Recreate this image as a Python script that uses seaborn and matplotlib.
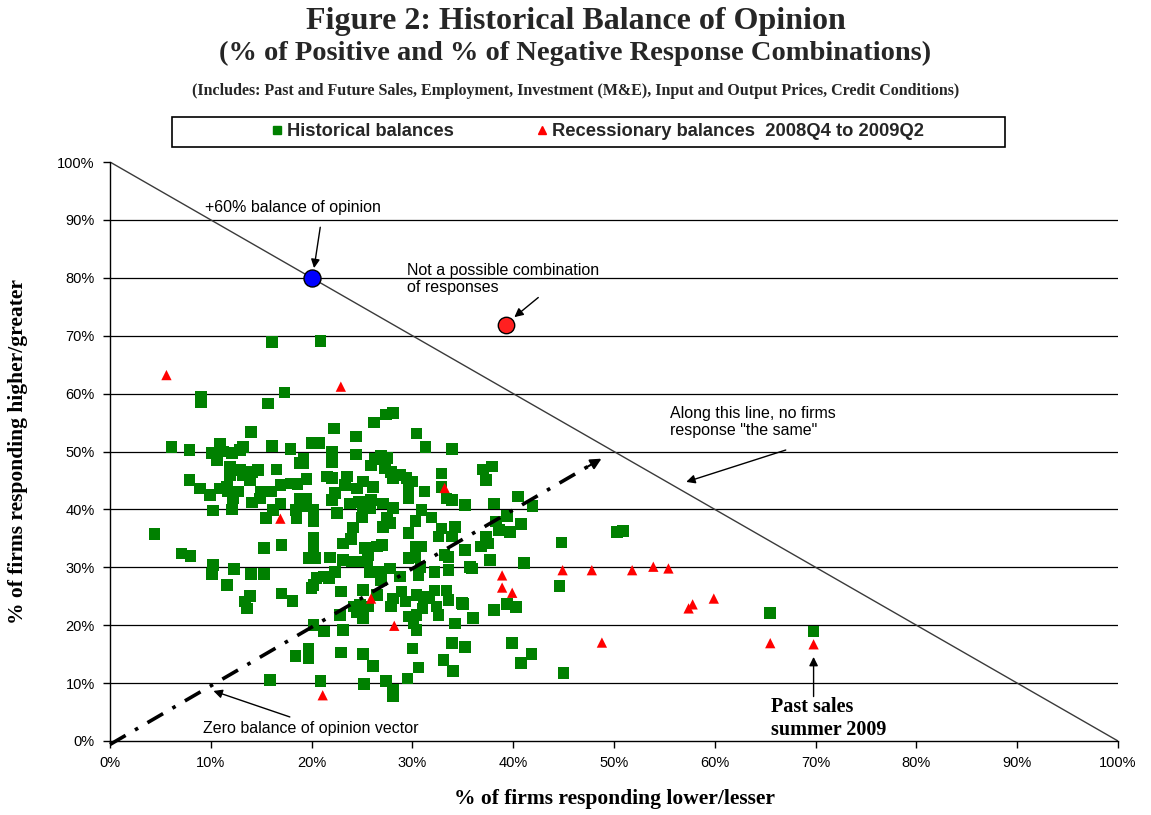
import matplotlib
matplotlib.use("Agg")
import matplotlib.pyplot as plt
import numpy as np
import pandas as pd
import seaborn as sns
from matplotlib.patches import Rectangle
from matplotlib.lines import Line2D

# ---------------- data (percent of firms) ----------------
hist_lower = [
    16.1, 20.9, 9.0, 9.0, 15.7, 17.3, 14.0, 6.1, 7.9, 10.9, 13.2, 16.1, 17.9, 10.1, 11.2, 12.1, 12.9, 10.6,
    11.9, 12.9, 13.2, 14.1, 14.7, 11.9, 13.9, 16.5, 18.8, 7.9, 8.9, 9.9, 10.9, 11.6, 11.7, 12.2, 12.7, 15.0,
    14.9, 16.0, 16.9, 14.1, 10.2, 12.1, 16.2, 16.9, 15.5, 18.4, 18.5, 17.9, 18.6, 4.4, 7.1, 8.0, 10.2, 10.1,
    12.3, 14.0, 15.3, 17.0, 15.3, 11.6, 13.9, 13.4, 13.6, 17.0, 18.1, 18.4, 15.9,
    22.2, 24.4, 28.1, 27.4, 26.2, 30.4, 31.3, 33.9, 20.0, 20.8, 22.0, 24.4, 19.2, 19.2, 22.0, 25.9, 26.3,
    21.5, 22.0, 19.5, 23.5, 23.3, 24.5, 25.1, 26.1, 22.3, 22.0, 18.8, 19.5, 19.3, 20.2, 23.8, 24.7, 25.1,
    25.9, 25.8, 22.5, 20.2, 25.0, 24.1, 20.2, 23.9,
    26.9, 27.5, 27.3, 27.9, 28.1, 28.8, 29.4, 29.6, 30.0, 29.6, 29.6, 31.2, 32.9, 32.9, 33.4, 33.9, 35.2,
    27.1, 28.1, 30.9, 31.9, 30.3, 27.5, 27.8, 27.1, 29.6, 32.9, 34.2, 33.9, 32.6,
    20.2, 19.7, 20.4, 21.8, 23.1, 23.1, 24.0, 25.3, 25.6, 25.5, 24.8, 26.5, 25.8, 20.5, 21.2, 21.7, 22.3,
    20.2, 20.0, 22.9, 25.1, 24.2, 24.5, 25.1, 24.8, 25.6, 22.8, 20.2, 21.2, 23.1,
    27.0, 30.3, 30.9, 29.6, 30.3, 35.2, 33.2, 33.6, 35.9, 27.8, 26.6, 26.9, 28.8, 30.6, 30.8, 32.2, 33.6,
    26.5, 28.1, 28.9, 29.3, 27.9, 30.4, 31.1, 31.7, 32.2, 33.4, 33.6, 34.9, 32.4, 32.6, 31.0, 29.6, 30.4,
    30.1, 30.4, 34.2, 36.0,
    19.7, 19.7, 22.9, 25.1, 26.1, 30.0, 30.6, 33.9, 35.2, 33.1, 34.0, 20.9, 25.2, 27.4, 28.1, 28.1, 29.5,
    37.0, 37.9, 37.3, 38.1, 40.5, 41.9, 39.4, 38.3, 38.6, 39.7, 40.8, 37.3, 37.5, 36.8, 37.7, 35.7, 41.1,
    44.8, 50.3, 50.9, 44.6, 35.0, 38.1, 39.4, 40.3, 39.9, 41.8, 40.8, 45.0, 65.5, 69.8,
]
hist_higher = [
    68.9, 69.1, 58.5, 59.5, 58.3, 60.2, 53.4, 50.8, 50.3, 51.4, 50.8, 50.9, 50.4, 49.7, 50.0, 49.7, 50.3, 48.5,
    47.4, 46.8, 45.9, 46.5, 46.8, 45.9, 45.1, 46.9, 48.0, 45.1, 43.6, 42.5, 43.6, 43.9, 43.1, 41.9, 43.1, 43.1,
    41.9, 43.1, 44.2, 41.2, 39.8, 40.0, 39.9, 41.0, 38.5, 39.9, 38.5, 44.5, 44.4, 35.7, 32.4, 32.0, 30.4, 28.8,
    29.7, 28.8, 33.3, 33.9, 28.8, 26.9, 25.0, 24.1, 22.9, 25.5, 24.2, 14.7, 10.5,
    54.0, 52.6, 56.7, 56.4, 55.0, 53.1, 50.8, 50.4, 51.5, 51.5, 50.0, 49.5, 48.8, 47.9, 48.2, 47.6, 48.7,
    45.7, 45.4, 45.2, 45.7, 44.2, 43.6, 44.8, 43.9, 42.8, 41.6, 41.9, 41.9, 40.5, 39.9, 41.0, 41.3, 40.5,
    41.6, 40.2, 39.4, 38.0, 38.6, 36.9, 35.1, 34.9,
    49.2, 48.9, 47.1, 46.5, 45.4, 45.9, 45.4, 44.5, 44.8, 43.1, 41.9, 43.1, 46.2, 43.9, 41.9, 41.6, 40.8,
    41.0, 40.2, 39.9, 38.6, 38.0, 38.5, 37.6, 37.0, 35.9, 36.7, 37.0, 35.3, 35.3,
    33.0, 31.6, 31.6, 31.7, 34.1, 31.3, 31.0, 33.3, 32.1, 31.0, 31.0, 33.6, 29.2, 28.1, 28.4, 28.1, 29.2,
    26.9, 26.4, 25.8, 26.1, 23.2, 22.3, 21.2, 23.5, 23.2, 21.8, 20.0, 18.9, 19.2,
    33.9, 33.6, 33.6, 31.6, 31.8, 33.0, 32.1, 31.8, 29.8, 29.8, 29.2, 27.8, 28.4, 28.7, 30.1, 29.2, 29.5,
    25.2, 24.6, 25.8, 24.1, 23.2, 25.2, 24.9, 24.6, 26.0, 26.0, 24.4, 23.8, 23.2, 21.8, 22.9, 21.5, 21.8,
    20.3, 19.2, 20.3, 21.2,
    16.0, 14.3, 15.3, 15.0, 13.0, 16.0, 12.7, 16.9, 16.2, 14.0, 12.1, 10.4, 9.8, 10.4, 8.9, 7.7, 10.8,
    46.9, 47.4, 45.1, 41.0, 42.2, 40.6, 38.9, 37.9, 36.4, 36.1, 37.5, 35.3, 34.1, 33.6, 31.3, 30.1, 30.7,
    34.3, 36.1, 36.3, 26.8, 23.7, 22.6, 23.7, 23.1, 16.9, 15.0, 13.5, 11.7, 22.1, 18.9,
]
rec_lower = [5.6, 22.9, 16.9, 33.2, 25.9, 28.2, 21.1, 38.9, 38.9, 39.9, 44.9, 47.8, 51.8, 53.9, 55.4,
             57.4, 57.8, 59.9, 48.8, 65.5, 69.8]
rec_higher = [63.2, 61.2, 38.4, 43.7, 24.6, 19.9, 7.9, 28.6, 26.5, 25.6, 29.5, 29.5, 29.5, 30.1, 29.8,
              22.9, 23.6, 24.6, 17.0, 16.9, 16.7]

series_names = ["Historical balances", "Recessionary balances  2008Q4 to 2009Q2"]
example_60 = [20, 80]          # +60% balance of opinion
impossible = [39.3, 71.8]      # not a possible combination
no_same_x = [0, 100]
no_same_y = [100, 0]
zero_vec_x = [0, 49]
zero_vec_y = [0, 49]
ticks = list(range(0, 101, 10))
tick_labels = [f"{t}%" for t in ticks]

# ---------------- style ----------------
sns.set_theme(style="white")
plt.rcParams["font.family"] = ["Liberation Sans", "DejaVu Sans"]
SERIF = ["Liberation Serif", "DejaVu Serif"]

W, H = 1151, 815
fig = plt.figure(figsize=(W / 100, H / 100), dpi=100)
fig.patch.set_facecolor("white")
ax = fig.add_axes([110 / W, 1 - 741 / H, 1008 / W, 579 / H])
ax.set_facecolor("white")

df_h = pd.DataFrame({"lower": hist_lower, "higher": hist_higher})
df_r = pd.DataFrame({"lower": rec_lower, "higher": rec_higher})

# reference lines
ax.plot(no_same_x, no_same_y, color="#3a3a3a", lw=1.0, zorder=2)

sns.scatterplot(data=df_h, x="lower", y="higher", marker="s", color="#008000", s=70,
                edgecolor="none", linewidth=0, ax=ax, zorder=3, legend=False)
sns.scatterplot(data=df_r, x="lower", y="higher", marker="^", color="#ff0000", s=55,
                edgecolor="none", linewidth=0, ax=ax, zorder=4, legend=False)

# zero balance vector (dash-dot with arrow head)
ax.plot([zero_vec_x[0], zero_vec_x[1] - 1.2], [zero_vec_y[0] - 0.6, zero_vec_y[1] - 1.2],
        color="black", lw=2.6, linestyle=(0, (5, 3, 1, 3)), zorder=5, clip_on=False)
ax.annotate("", xy=(zero_vec_x[1], zero_vec_y[1]), xytext=(zero_vec_x[1] - 2.0, zero_vec_y[1] - 2.0),
            arrowprops=dict(arrowstyle="-|>", color="black", lw=1.5, mutation_scale=16), zorder=5)

# special points
ax.scatter([example_60[0]], [example_60[1]], s=150, color="#0000ff", edgecolor="black", linewidth=1, zorder=6)
ax.scatter([impossible[0]], [impossible[1]], s=140, color="#ff2020", edgecolor="black", linewidth=1, zorder=6)

# axes
ax.set_xlim(0, 100)
ax.set_ylim(0, 100)
ax.set_xticks(ticks)
ax.set_xticklabels(tick_labels, fontsize=10.5)
ax.set_yticks(ticks)
ax.set_yticklabels(tick_labels, fontsize=10.5)
ax.tick_params(axis="both", which="both", bottom=True, left=True, direction="out",
               length=5, width=1, color="black", labelcolor="black", pad=6)
ax.grid(False)
for t in ticks[1:-1]:
    ax.axhline(t, color="black", lw=0.9, zorder=1)
for side in ["top", "right"]:
    ax.spines[side].set_visible(False)
for side in ["left", "bottom"]:
    ax.spines[side].set_color("black")
    ax.spines[side].set_linewidth(1.0)

ax.set_xlabel("% of firms responding lower/lesser", family=SERIF, weight="bold", fontsize=15.5, color="black")
ax.set_ylabel("% of firms responding higher/greater", family=SERIF, weight="bold", fontsize=15.5, color="black")
ax.xaxis.set_label_coords(0.5, -(789 - 741) / 579)
ax.yaxis.set_label_coords(-(110 - 28) / 1008, 0.5)

# annotations
ax.text(9.4, 92.2, "+60% balance of opinion", fontsize=11.5, ha="left", va="center", color="black")
ax.annotate("", xy=(20.2, 81.2), xytext=(20.9, 89.2),
            arrowprops=dict(arrowstyle="-|>", color="black", lw=1, mutation_scale=13))
ax.text(29.5, 79.8, "Not a possible combination\nof responses", fontsize=11.5, ha="left", va="center",
        color="black", linespacing=1.15)
ax.annotate("", xy=(39.9, 72.9), xytext=(42.7, 76.9),
            arrowprops=dict(arrowstyle="-|>", color="black", lw=1, mutation_scale=13))
ax.text(55.6, 55.1, "Along this line, no firms\nresponse \"the same\"", fontsize=11.5, ha="left", va="center",
        color="black", linespacing=1.15)
ax.annotate("", xy=(56.9, 44.6), xytext=(67.3, 50.4),
            arrowprops=dict(arrowstyle="-|>", color="black", lw=1, mutation_scale=13))
ax.text(9.2, 2.1, "Zero balance of opinion vector", fontsize=11.5, ha="left", va="center", color="black")
ax.annotate("", xy=(10.0, 8.8), xytext=(18.1, 4.0),
            arrowprops=dict(arrowstyle="-|>", color="black", lw=1, mutation_scale=13))
ax.text(65.6, 3.9, "Past sales\nsummer 2009", fontsize=14.5, ha="left", va="center", color="black",
        family=SERIF, weight="bold", linespacing=1.2)
ax.annotate("", xy=(69.8, 15.0), xytext=(69.8, 7.2),
            arrowprops=dict(arrowstyle="-|>", color="black", lw=1, mutation_scale=13))

# titles
fig.text(0.5, 1 - 21 / H, "Figure 2: Historical Balance of Opinion", ha="center", va="center",
         family=SERIF, weight="bold", fontsize=23)
fig.text(0.5, 1 - 53 / H, "(% of Positive and % of Negative Response Combinations)", ha="center", va="center",
         family=SERIF, weight="bold", fontsize=20.5)
fig.text(0.5, 1 - 91 / H,
         "(Includes: Past and Future Sales, Employment, Investment (M&E), Input and Output Prices, Credit Conditions)",
         ha="center", va="center", family=SERIF, weight="bold", fontsize=11.5)

# legend in a box
handles = [Line2D([], [], marker="s", color="#008000", ls="", ms=6),
           Line2D([], [], marker="^", color="#ff0000", ls="", ms=6)]
fig.legend(handles, series_names, ncol=2, loc="center", bbox_to_anchor=(597 / W, 1 - 132 / H),
           frameon=False, prop={"weight": "bold", "size": 13.2}, columnspacing=4.4,
           handletextpad=0.15, handlelength=0.8)
fig.patches.append(Rectangle((172 / W, 1 - 147 / H), 833 / W, 30 / H, transform=fig.transFigure,
                             fill=False, edgecolor="black", linewidth=1.2))

fig.savefig("out.png", dpi=100, facecolor="white")
